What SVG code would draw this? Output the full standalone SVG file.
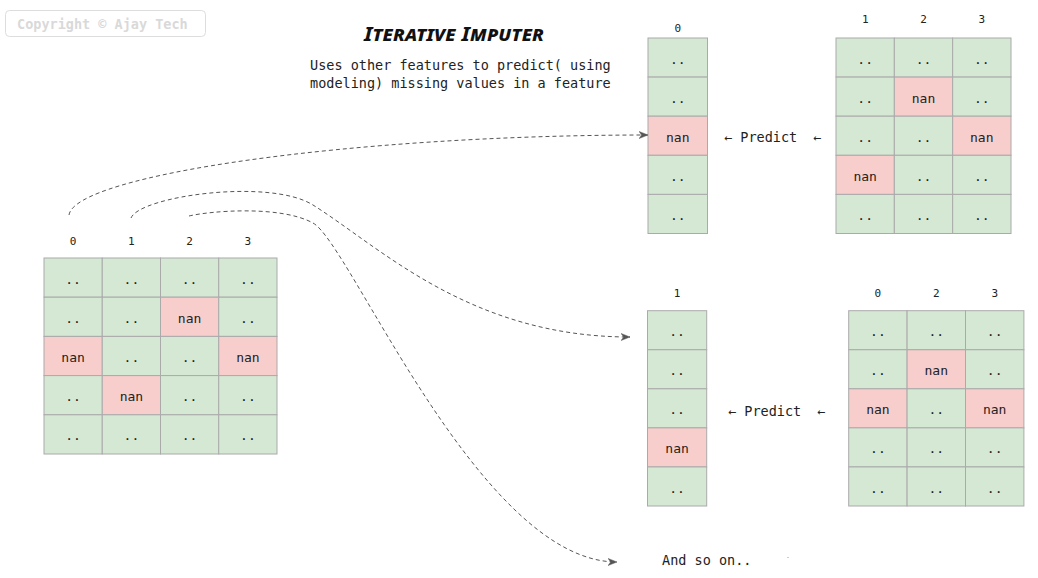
<svg xmlns="http://www.w3.org/2000/svg" width="1038" height="578" viewBox="0 0 1038 578">
<defs>
<style>
.g{fill:#d5e8d4;stroke:#aaaaaa;stroke-width:1}
.r{fill:#f8cecc;stroke:#aaaaaa;stroke-width:1}
.c{font-family:"DejaVu Sans Mono","Liberation Mono",monospace;font-size:13px;fill:#222;text-anchor:middle}
.h{font-family:"DejaVu Sans Mono","Liberation Mono",monospace;font-size:11px;fill:#222;text-anchor:middle}
.t{font-family:"DejaVu Sans Mono","Liberation Mono",monospace;font-size:13.5px;fill:#222}
.e{fill:none;stroke:#555;stroke-width:1;stroke-dasharray:4 3}
</style>
<marker id="arr" viewBox="0 0 10 10" refX="10" refY="5" markerWidth="9" markerHeight="9" markerUnits="userSpaceOnUse" orient="auto">
<path d="M0,1 L10,5 L0,9 L3,5 Z" fill="#555" stroke="#555" stroke-width="0.5"/>
</marker>
</defs>
<rect width="1038" height="578" fill="#ffffff"/>

<g id="copyright">
<rect x="5.5" y="10.5" width="200" height="26" rx="4" fill="#fff" stroke="#dddddd"/>
<text x="17" y="28.5" font-family="DejaVu Sans Mono, Liberation Mono, monospace" font-size="13.5" font-weight="bold" fill="#d9d9d9">Copyright © Ajay Tech</text>
</g>

<g id="title">
<text x="454" y="41" text-anchor="middle" font-family="Noto Sans, sans-serif" font-size="20" font-weight="bold" font-style="italic" font-variant="small-caps" textLength="180" lengthAdjust="spacingAndGlyphs" fill="#111">Iterative Imputer</text>
</g>

<g id="description">
<text class="t" x="310" y="70">Uses other features to predict( using</text>
<text class="t" x="310" y="88">modeling) missing values in a feature</text>
</g>

<g id="main-grid">
<text class="h" x="73.1" y="245">0</text>
<text class="h" x="131.4" y="245">1</text>
<text class="h" x="189.6" y="245">2</text>
<text class="h" x="247.9" y="245">3</text>
<rect class="g" x="44" y="258" width="58.25" height="39.2"/>
<rect class="g" x="102.25" y="258" width="58.25" height="39.2"/>
<rect class="g" x="160.5" y="258" width="58.25" height="39.2"/>
<rect class="g" x="218.75" y="258" width="58.25" height="39.2"/>
<rect class="g" x="44" y="297.2" width="58.25" height="39.2"/>
<rect class="g" x="102.25" y="297.2" width="58.25" height="39.2"/>
<rect class="r" x="160.5" y="297.2" width="58.25" height="39.2"/>
<rect class="g" x="218.75" y="297.2" width="58.25" height="39.2"/>
<rect class="r" x="44" y="336.4" width="58.25" height="39.2"/>
<rect class="g" x="102.25" y="336.4" width="58.25" height="39.2"/>
<rect class="g" x="160.5" y="336.4" width="58.25" height="39.2"/>
<rect class="r" x="218.75" y="336.4" width="58.25" height="39.2"/>
<rect class="g" x="44" y="375.6" width="58.25" height="39.2"/>
<rect class="r" x="102.25" y="375.6" width="58.25" height="39.2"/>
<rect class="g" x="160.5" y="375.6" width="58.25" height="39.2"/>
<rect class="g" x="218.75" y="375.6" width="58.25" height="39.2"/>
<rect class="g" x="44" y="414.8" width="58.25" height="39.2"/>
<rect class="g" x="102.25" y="414.8" width="58.25" height="39.2"/>
<rect class="g" x="160.5" y="414.8" width="58.25" height="39.2"/>
<rect class="g" x="218.75" y="414.8" width="58.25" height="39.2"/>
<g transform="translate(0,1.5)">
<text class="c" x="73.1" y="282">..</text><text class="c" x="131.4" y="282">..</text><text class="c" x="189.6" y="282">..</text><text class="c" x="247.9" y="282">..</text>
<text class="c" x="73.1" y="321.3">..</text><text class="c" x="131.4" y="321.3">..</text><text class="c" x="189.6" y="321.3">nan</text><text class="c" x="247.9" y="321.3">..</text>
<text class="c" x="73.1" y="360.5">nan</text><text class="c" x="131.4" y="360.5">..</text><text class="c" x="189.6" y="360.5">..</text><text class="c" x="247.9" y="360.5">nan</text>
<text class="c" x="73.1" y="399.7">..</text><text class="c" x="131.4" y="399.7">nan</text><text class="c" x="189.6" y="399.7">..</text><text class="c" x="247.9" y="399.7">..</text>
<text class="c" x="73.1" y="438.9">..</text><text class="c" x="131.4" y="438.9">..</text><text class="c" x="189.6" y="438.9">..</text><text class="c" x="247.9" y="438.9">..</text>
</g>
</g>

<g id="target-col-0">
<text class="h" x="677.75" y="32">0</text>
<rect class="g" x="648" y="38" width="59.5" height="39.1"/>
<rect class="g" x="648" y="77.1" width="59.5" height="39.1"/>
<rect class="r" x="648" y="116.2" width="59.5" height="39.1"/>
<rect class="g" x="648" y="155.3" width="59.5" height="39.1"/>
<rect class="g" x="648" y="194.4" width="59.5" height="39.1"/>
<g transform="translate(0,1.5)">
<text class="c" x="677.75" y="62">..</text>
<text class="c" x="677.75" y="101.1">..</text>
<text class="c" x="677.75" y="140.2">nan</text>
<text class="c" x="677.75" y="179.3">..</text>
<text class="c" x="677.75" y="218.4">..</text>
</g>
</g>

<g id="features-123">
<text class="h" x="865.2" y="23">1</text>
<text class="h" x="923.5" y="23">2</text>
<text class="h" x="981.8" y="23">3</text>
<rect class="g" x="836" y="38" width="58.33" height="39.1"/>
<rect class="g" x="894.33" y="38" width="58.33" height="39.1"/>
<rect class="g" x="952.67" y="38" width="58.33" height="39.1"/>
<rect class="g" x="836" y="77.1" width="58.33" height="39.1"/>
<rect class="r" x="894.33" y="77.1" width="58.33" height="39.1"/>
<rect class="g" x="952.67" y="77.1" width="58.33" height="39.1"/>
<rect class="g" x="836" y="116.2" width="58.33" height="39.1"/>
<rect class="g" x="894.33" y="116.2" width="58.33" height="39.1"/>
<rect class="r" x="952.67" y="116.2" width="58.33" height="39.1"/>
<rect class="r" x="836" y="155.3" width="58.33" height="39.1"/>
<rect class="g" x="894.33" y="155.3" width="58.33" height="39.1"/>
<rect class="g" x="952.67" y="155.3" width="58.33" height="39.1"/>
<rect class="g" x="836" y="194.4" width="58.33" height="39.1"/>
<rect class="g" x="894.33" y="194.4" width="58.33" height="39.1"/>
<rect class="g" x="952.67" y="194.4" width="58.33" height="39.1"/>
<g transform="translate(0,1.5)">
<text class="c" x="865.2" y="62">..</text><text class="c" x="923.5" y="62">..</text><text class="c" x="981.8" y="62">..</text>
<text class="c" x="865.2" y="101.1">..</text><text class="c" x="923.5" y="101.1">nan</text><text class="c" x="981.8" y="101.1">..</text>
<text class="c" x="865.2" y="140.2">..</text><text class="c" x="923.5" y="140.2">..</text><text class="c" x="981.8" y="140.2">nan</text>
<text class="c" x="865.2" y="179.3">nan</text><text class="c" x="923.5" y="179.3">..</text><text class="c" x="981.8" y="179.3">..</text>
<text class="c" x="865.2" y="218.4">..</text><text class="c" x="923.5" y="218.4">..</text><text class="c" x="981.8" y="218.4">..</text>
</g>
</g>

<g id="predict-1">
<text class="t" x="724" y="141.5">← Predict</text>
<text class="t" x="813" y="141.5">←</text>
</g>

<g id="target-col-1">
<text class="h" x="677.1" y="297">1</text>
<rect class="g" x="647.5" y="310.7" width="59.2" height="39.06"/>
<rect class="g" x="647.5" y="349.76" width="59.2" height="39.06"/>
<rect class="g" x="647.5" y="388.82" width="59.2" height="39.06"/>
<rect class="r" x="647.5" y="427.88" width="59.2" height="39.06"/>
<rect class="g" x="647.5" y="466.94" width="59.2" height="39.06"/>
<g transform="translate(0,1.5)">
<text class="c" x="677.1" y="334.7">..</text>
<text class="c" x="677.1" y="373.8">..</text>
<text class="c" x="677.1" y="412.9">..</text>
<text class="c" x="677.1" y="451.9">nan</text>
<text class="c" x="677.1" y="491">..</text>
</g>
</g>

<g id="features-023">
<text class="h" x="877.9" y="297">0</text>
<text class="h" x="936.3" y="297">2</text>
<text class="h" x="994.7" y="297">3</text>
<rect class="g" x="848.7" y="310.7" width="58.4" height="39.06"/>
<rect class="g" x="907.1" y="310.7" width="58.4" height="39.06"/>
<rect class="g" x="965.5" y="310.7" width="58.4" height="39.06"/>
<rect class="g" x="848.7" y="349.76" width="58.4" height="39.06"/>
<rect class="r" x="907.1" y="349.76" width="58.4" height="39.06"/>
<rect class="g" x="965.5" y="349.76" width="58.4" height="39.06"/>
<rect class="r" x="848.7" y="388.82" width="58.4" height="39.06"/>
<rect class="g" x="907.1" y="388.82" width="58.4" height="39.06"/>
<rect class="r" x="965.5" y="388.82" width="58.4" height="39.06"/>
<rect class="g" x="848.7" y="427.88" width="58.4" height="39.06"/>
<rect class="g" x="907.1" y="427.88" width="58.4" height="39.06"/>
<rect class="g" x="965.5" y="427.88" width="58.4" height="39.06"/>
<rect class="g" x="848.7" y="466.94" width="58.4" height="39.06"/>
<rect class="g" x="907.1" y="466.94" width="58.4" height="39.06"/>
<rect class="g" x="965.5" y="466.94" width="58.4" height="39.06"/>
<g transform="translate(0,1.5)">
<text class="c" x="877.9" y="334.7">..</text><text class="c" x="936.3" y="334.7">..</text><text class="c" x="994.7" y="334.7">..</text>
<text class="c" x="877.9" y="373.8">..</text><text class="c" x="936.3" y="373.8">nan</text><text class="c" x="994.7" y="373.8">..</text>
<text class="c" x="877.9" y="412.9">nan</text><text class="c" x="936.3" y="412.9">..</text><text class="c" x="994.7" y="412.9">nan</text>
<text class="c" x="877.9" y="451.9">..</text><text class="c" x="936.3" y="451.9">..</text><text class="c" x="994.7" y="451.9">..</text>
<text class="c" x="877.9" y="491">..</text><text class="c" x="936.3" y="491">..</text><text class="c" x="994.7" y="491">..</text>
</g>
</g>

<g id="predict-2">
<text class="t" x="728" y="415.5">← Predict</text>
<text class="t" x="817" y="415.5">←</text>
</g>

<g id="and-so-on">
<text class="t" x="662" y="564.5">And so on..</text>
<rect x="787" y="557" width="2" height="1" fill="#cccccc"/>
</g>

<g id="connectors">
<path class="e" d="M69 215 C 75 175, 350 135, 648 135" marker-end="url(#arr)"/>
<path class="e" d="M131 218 C 140 196, 270 178, 313 205 C 380 247, 470 337, 630 337" marker-end="url(#arr)"/>
<path class="e" d="M189 216 C 210 211, 280 205, 313 223 C 350 243, 480 562, 617 562" marker-end="url(#arr)"/>
</g>
</svg>
